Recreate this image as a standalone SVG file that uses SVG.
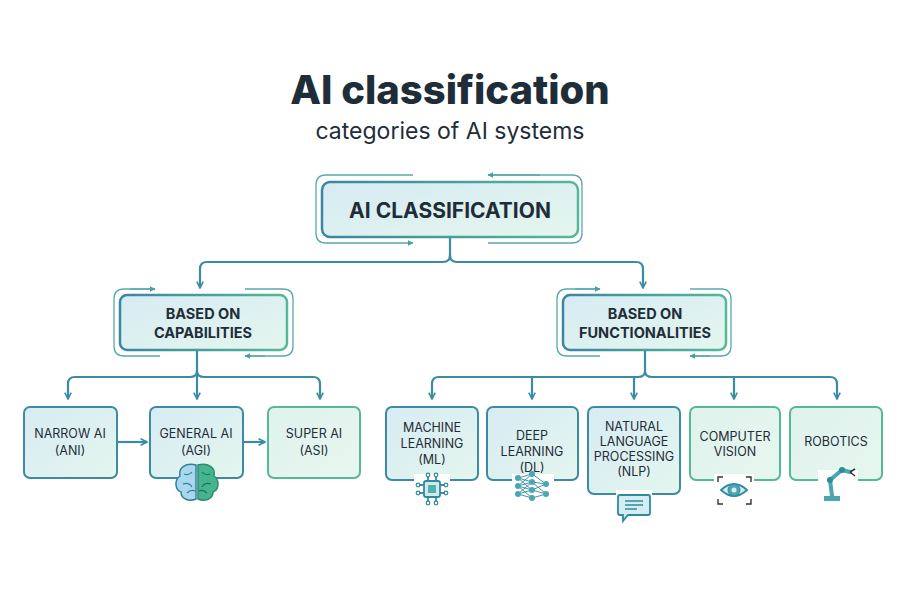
<svg xmlns="http://www.w3.org/2000/svg" width="900" height="600" viewBox="0 0 900 600">
<defs>
<linearGradient id="fill" x1="0" y1="0" x2="1" y2="1"><stop offset="0" stop-color="#d7ebf4"/><stop offset="1" stop-color="#e4f6ed"/></linearGradient>
<linearGradient id="strk" x1="0" y1="0" x2="1" y2="0"><stop offset="0" stop-color="#3b86a0"/><stop offset="1" stop-color="#55b89a"/></linearGradient>
<linearGradient id="fillG" x1="0" y1="0" x2="1" y2="1"><stop offset="0" stop-color="#dff2ec"/><stop offset="1" stop-color="#e6f7ef"/></linearGradient>
<marker id="ah" viewBox="0 0 10 10" refX="9" refY="5" markerWidth="8" markerHeight="8" orient="auto" markerUnits="userSpaceOnUse"><path d="M1,1 L9,5 L1,9" fill="none" stroke="#3b8ca2" stroke-width="2"/></marker>
<marker id="ahs" viewBox="0 0 10 10" refX="9" refY="5" markerWidth="6" markerHeight="6" orient="auto" markerUnits="userSpaceOnUse"><path d="M0,0 L10,5 L0,10z" fill="#4a9fa0"/></marker>
</defs>
<style>
.box{fill:url(#fill);stroke:url(#strk);stroke-width:2.5}
.leaf{fill:url(#fill);stroke:#3b8ca2;stroke-width:2}
.leafg{fill:url(#fillG);stroke:#55b89a;stroke-width:2}
.br{fill:none;stroke:#5aa8ac;stroke-width:1.3}
.c{fill:none;stroke:#3b8ca2;stroke-width:2.2}
.t{font-family:Inter,"Liberation Sans",sans-serif;fill:#1e2d38;text-anchor:middle}
.ic{fill:none;stroke:#3b8ca2;stroke-width:1.8}
</style>
<rect width="900" height="600" fill="#ffffff"/>
<text class="t" x="450" y="104" font-size="40" font-weight="800" fill="#1b3648">AI classification</text>
<text class="t" x="450" y="139" font-size="23">categories of AI systems</text>

<g id="connectors">
<path class="c" d="M450,237 V255 Q450,262 443,262 H207 Q200,262 200,269 V288" marker-end="url(#ah)"/>
<path class="c" d="M450,255 Q450,262 457,262 H636 Q643,262 643,269 V288" marker-end="url(#ah)" stroke="#4aa39e"/>
<path class="c" d="M197,350 V371 Q197,377 190,377 H75 Q68,377 68,384 V399" marker-end="url(#ah)"/>
<path class="c" d="M197,370 V399" marker-end="url(#ah)"/>
<path class="c" d="M197,371 Q197,377 204,377 H313 Q320,377 320,384 V399" marker-end="url(#ah)" stroke="#4aa39e"/>
<path class="c" d="M117,442 H147" marker-end="url(#ah)"/>
<path class="c" d="M243,442 H265" marker-end="url(#ah)"/>
<path class="c" d="M645,350 V371 Q645,377 638,377 H439 Q432,377 432,384 V399" marker-end="url(#ah)"/>
<path class="c" d="M532,377 V399" marker-end="url(#ah)"/>
<path class="c" d="M634,377 V399" marker-end="url(#ah)"/>
<path class="c" d="M645,371 Q645,377 652,377 H830 Q837,377 837,384 V399" marker-end="url(#ah)" stroke="#4aa39e"/>
<path class="c" d="M734,377 V399" marker-end="url(#ah)" stroke="#4aa39e"/>
</g>

<g id="n-root">
<path class="br" d="M413,175 H326 Q316,175 316,185 V233 Q316,243 326,243 H413" marker-end="url(#ahs)"/>
<path class="br" d="M488,175 H572 Q582,175 582,185 V233 Q582,243 572,243 H488"/>
<path class="br" d="M540,175 H488" marker-end="url(#ahs)"/>
<rect class="box" x="322" y="182" width="256" height="55" rx="8"/>
<text class="t" x="450" y="218" font-size="21" font-weight="700">AI CLASSIFICATION</text>
</g>

<g id="n-cap">
<path class="br" d="M155,289 H124 Q114,289 114,299 V346 Q114,356 124,356 H160"/>
<path class="br" d="M130,289 H155" marker-end="url(#ahs)"/>
<path class="br" d="M245,289 H283 Q293,289 293,299 V346 Q293,356 283,356 H245"/>
<path class="br" d="M265,356 H245" marker-end="url(#ahs)"/>
<rect class="box" x="120" y="295" width="167" height="55" rx="7"/>
<text class="t" x="203" y="319" font-size="14.5" font-weight="700">BASED ON</text>
<text class="t" x="203" y="338" font-size="14.5" font-weight="700">CAPABILITIES</text>
</g>

<g id="n-func">
<path class="br" d="M600,289 H567 Q557,289 557,299 V346 Q557,356 567,356 H600"/>
<path class="br" d="M575,289 H600" marker-end="url(#ahs)"/>
<path class="br" d="M690,289 H721 Q731,289 731,299 V346 Q731,356 721,356 H690"/>
<path class="br" d="M710,356 H690" marker-end="url(#ahs)"/>
<rect class="box" x="563" y="295" width="163" height="55" rx="7"/>
<text class="t" x="645" y="319" font-size="14.5" font-weight="700">BASED ON</text>
<text class="t" x="645" y="338" font-size="14.5" font-weight="700">FUNCTIONALITIES</text>
</g>

<g id="n-ani">
<rect class="leaf" x="24" y="407" width="93" height="71" rx="6"/>
<text class="t" x="70" y="438" font-size="12.5">NARROW AI</text>
<text class="t" x="70" y="455" font-size="12.5">(ANI)</text>
</g>
<g id="n-agi">
<rect class="leaf" x="150" y="407" width="93" height="71" rx="6"/>
<text class="t" x="196" y="438" font-size="12.5">GENERAL AI</text>
<text class="t" x="196" y="455" font-size="12.5">(AGI)</text>
<rect x="178" y="472" width="38" height="30" fill="#fff"/>
<path d="M196,465 C186,462 178,468 180,476 C174,480 175,490 181,492 C181,499 189,502 196,499 Z" fill="#a9d8ec" stroke="#2f7fa0" stroke-width="1.5"/>
<path d="M198,465 C208,462 216,468 214,476 C220,480 219,490 213,492 C213,499 205,502 198,499 Z" fill="#45b58f" stroke="#2a8c70" stroke-width="1.5"/>
<path d="M184,474 q5,2 8,-2 M183,484 q6,-2 9,3 M187,493 q4,-4 8,-2" fill="none" stroke="#2f7fa0" stroke-width="1.2"/>
<path d="M210,474 q-5,2 -8,-2 M211,484 q-6,-2 -9,3 M207,493 q-4,-4 -8,-2" fill="none" stroke="#1f7058" stroke-width="1.2"/>
</g>
<g id="n-asi">
<rect class="leafg" x="268" y="407" width="92" height="71" rx="6"/>
<text class="t" x="314" y="438" font-size="12.5">SUPER AI</text>
<text class="t" x="314" y="455" font-size="12.5">(ASI)</text>
</g>

<g id="n-ml">
<rect class="leaf" x="386" y="407" width="92" height="73" rx="6"/>
<text class="t" x="432" y="432" font-size="12.5">MACHINE</text>
<text class="t" x="432" y="448" font-size="12.5">LEARNING</text>
<text class="t" x="432" y="464" font-size="12.5">(ML)</text>
<rect x="414" y="474" width="36" height="34" fill="#fff"/>
<rect x="424" y="481" width="16" height="16" rx="2" fill="#cfe9ef" stroke="#2f8aa0" stroke-width="1.8"/>
<rect x="428" y="485" width="8" height="8" fill="#4fb3b0"/>
<g class="ic" stroke-width="1.3"><path d="M428,481 v-5 M436,481 v-5 M428,497 v5 M436,497 v5 M424,485 h-5 M424,493 h-5 M440,485 h5 M440,493 h5"/></g>
<g fill="#fff" stroke="#2f8aa0" stroke-width="1.2"><circle cx="428" cy="475" r="1.8"/><circle cx="436" cy="475" r="1.8"/><circle cx="428" cy="503" r="1.8"/><circle cx="436" cy="503" r="1.8"/><circle cx="418" cy="485" r="1.8"/><circle cx="418" cy="493" r="1.8"/><circle cx="446" cy="485" r="1.8"/><circle cx="446" cy="493" r="1.8"/></g>
</g>
<g id="n-dl">
<rect class="leaf" x="487" y="407" width="91" height="73" rx="6"/>
<text class="t" x="532" y="440" font-size="12.5">DEEP</text>
<text class="t" x="532" y="456" font-size="12.5">LEARNING</text>
<text class="t" x="532" y="472" font-size="12.5">(DL)</text>
<rect x="512" y="474" width="42" height="30" fill="#fff"/>
<g stroke="#2f8aa0" stroke-width="0.9"><path d="M518,478 L532,474 M518,478 L532,482 M518,478 L532,490 M518,486 L532,474 M518,486 L532,482 M518,486 L532,490 M518,486 L532,498 M518,494 L532,482 M518,494 L532,490 M518,494 L532,498 M532,474 L546,484 M532,482 L546,484 M532,490 L546,484 M532,482 L546,494 M532,490 L546,494 M532,498 L546,494"/></g>
<g fill="#4aa7b0"><circle cx="518" cy="478" r="3"/><circle cx="518" cy="486" r="3"/><circle cx="518" cy="494" r="3"/><circle cx="532" cy="474" r="3"/><circle cx="532" cy="482" r="3"/><circle cx="532" cy="490" r="3"/><circle cx="532" cy="498" r="3"/><circle cx="546" cy="484" r="3"/><circle cx="546" cy="494" r="3"/></g>
</g>
<g id="n-nlp">
<rect class="leaf" x="588" y="407" width="92" height="87" rx="6"/>
<text class="t" x="634" y="431" font-size="12.5">NATURAL</text>
<text class="t" x="634" y="446" font-size="12.5">LANGUAGE</text>
<text class="t" x="634" y="461" font-size="12.5">PROCESSING</text>
<text class="t" x="634" y="476" font-size="12.5">(NLP)</text>
<rect x="616" y="490" width="36" height="30" fill="#fff"/>
<path d="M620,495 h28 a2,2 0 0 1 2,2 v16 a2,2 0 0 1 -2,2 h-20 l-5,6 v-6 h-3 a2,2 0 0 1 -2,-2 v-16 a2,2 0 0 1 2,-2z" fill="#d5ecf2" stroke="#2f8aa0" stroke-width="1.8"/>
<path d="M625,501 h18 M625,505 h18 M625,509 h12" stroke="#2f8aa0" stroke-width="1.4"/>
</g>
<g id="n-cv">
<rect class="leafg" x="690" y="407" width="90" height="73" rx="6" stroke="#4aa39e"/>
<text class="t" x="735" y="441" font-size="12.5">COMPUTER</text>
<text class="t" x="735" y="456" font-size="12.5">VISION</text>
<rect x="714" y="474" width="40" height="32" fill="#fff"/>
<path d="M718,482 v-5 h5 M746,477 h5 v5 M718,499 v5 h5 M746,504 h5 v-5" fill="none" stroke="#333" stroke-width="1.4"/>
<path d="M721,490 Q734,478 747,490 Q734,502 721,490z" fill="#d5ecf2" stroke="#2f8aa0" stroke-width="1.8"/>
<circle cx="734" cy="490" r="6" fill="#4aa7b0" stroke="#2f8aa0"/>
<circle cx="734" cy="490" r="2.5" fill="#d5ecf2"/>
</g>
<g id="n-rob">
<rect class="leafg" x="790" y="407" width="92" height="73" rx="6"/>
<text class="t" x="836" y="446" font-size="12.5">ROBOTICS</text>
<rect x="818" y="470" width="40" height="34" fill="#fff"/>
<rect x="824" y="496" width="16" height="5" fill="#4aa7b0"/>
<path d="M832,496 L830,480 L842,470 L850,472" fill="none" stroke="#4aa7b0" stroke-width="4" stroke-linecap="round"/>
<circle cx="830" cy="480" r="3" fill="#2f8aa0"/><circle cx="842" cy="470" r="3" fill="#2f8aa0"/>
<path d="M850,472 l5,-3 M850,472 l5,4" stroke="#333" stroke-width="1.5"/>
</g>
</svg>
